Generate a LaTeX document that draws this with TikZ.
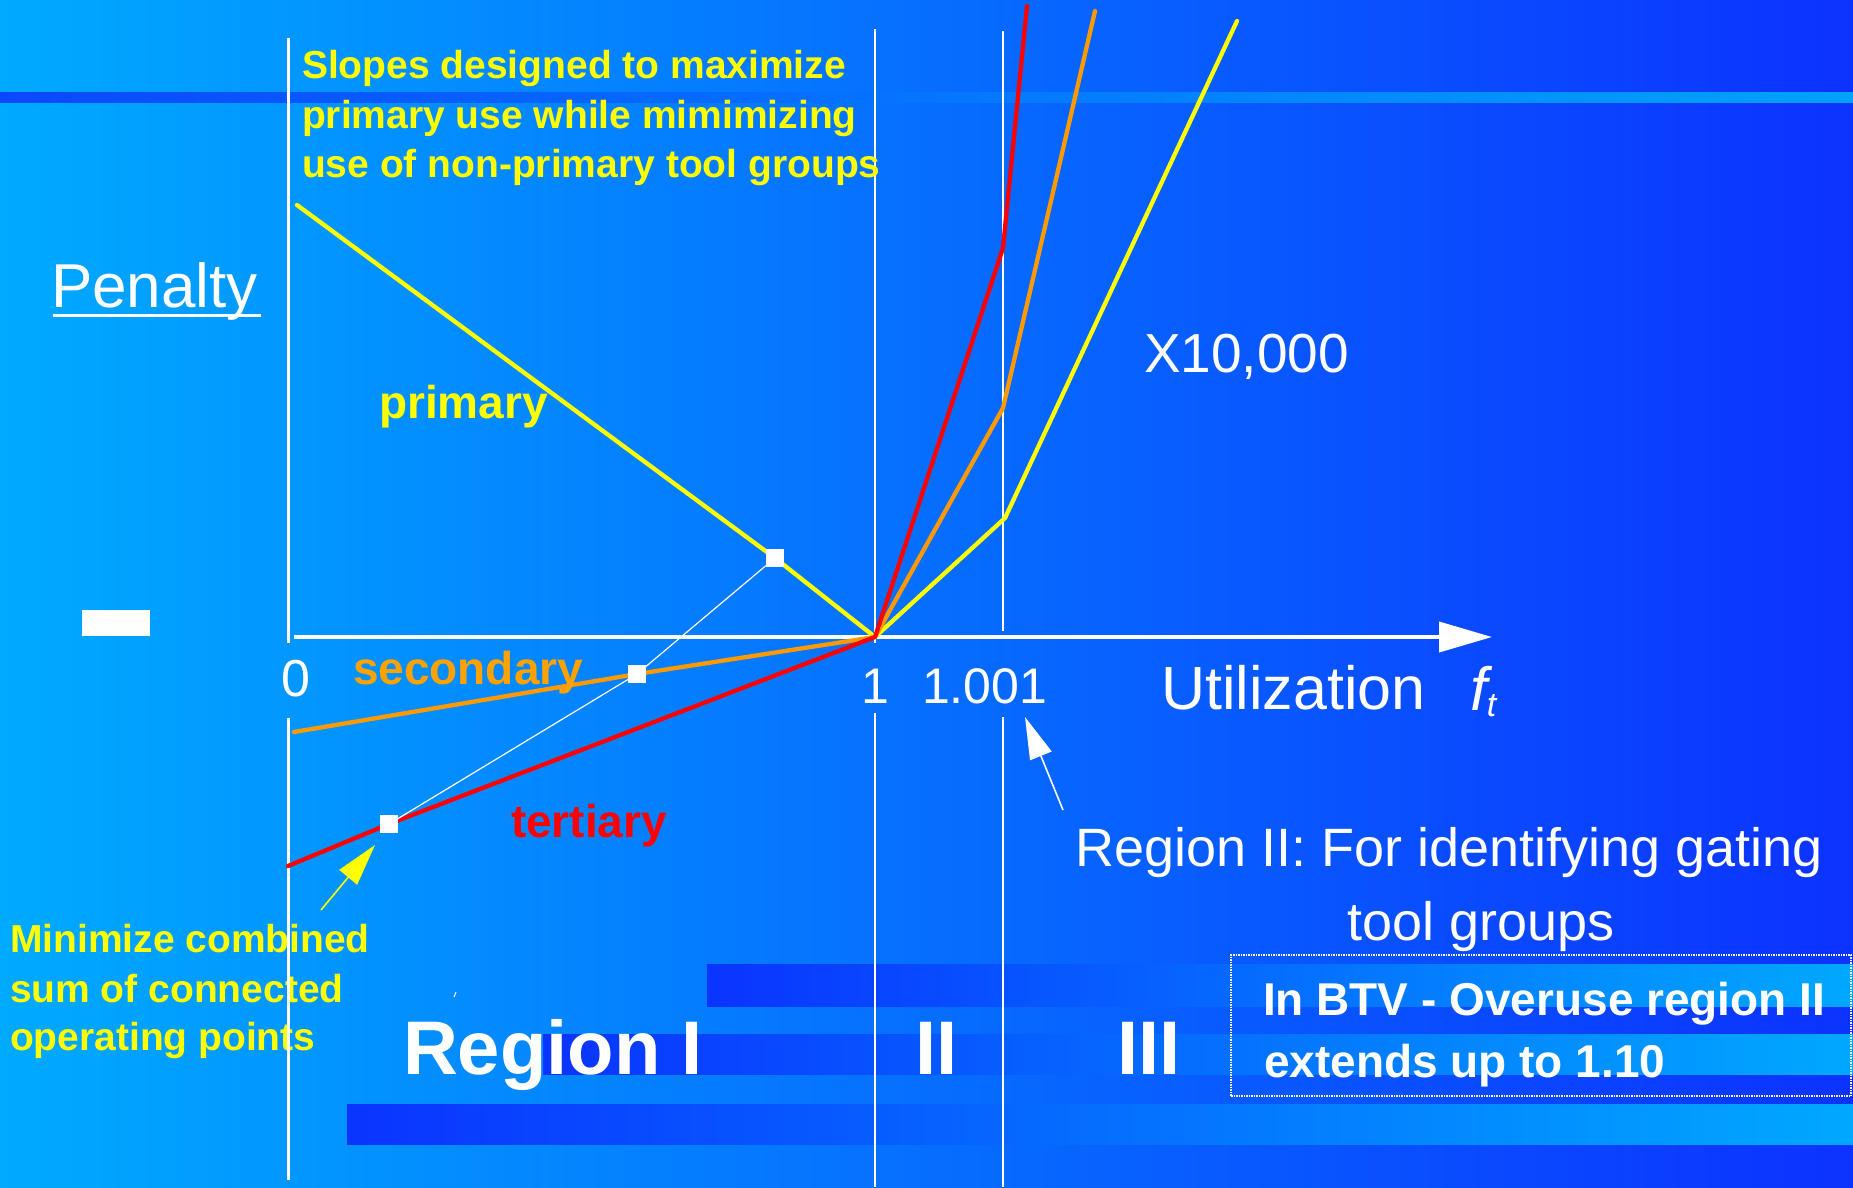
\documentclass[tikz,border=0pt]{standalone}
\usepackage{fontspec}
\setmainfont{Liberation Sans}
\usetikzlibrary{arrows.meta}
\definecolor{bgL}{HTML}{00AAFF}
\definecolor{bgR}{HTML}{0C32FF}
\definecolor{bandD}{HTML}{0A34FF}
\definecolor{bandL}{HTML}{00A8FF}
\definecolor{topD}{HTML}{0A48FF}
\definecolor{topL}{HTML}{00A2FF}
\definecolor{cyel}{HTML}{FFFF00}
\definecolor{corg}{HTML}{FF9900}
\definecolor{corgt}{HTML}{FFA200}
\definecolor{cred}{HTML}{FF0000}
\newcommand{\myfs}[1]{\fontsize{#1}{#1}\selectfont}
\begin{document}
\begin{tikzpicture}[x=1pt,y=-1pt,
  tw/.style={inner sep=0pt,outer sep=0pt,anchor=base west,text=white},
  ty/.style={inner sep=0pt,outer sep=0pt,anchor=base west,text=cyel,font=\myfs{39}\bfseries},
  curvelbl/.style={inner sep=0pt,outer sep=0pt,anchor=base west,font=\myfs{46}\bfseries},
  axisline/.style={draw=white,line width=3pt},
  gridline/.style={draw=white,line width=2pt},
  gridthin/.style={draw=white,line width=1.4pt},
  ycurve/.style={draw=cyel,line width=4.3pt,line join=round,line cap=round},
  ocurve/.style={draw=corg,line width=4.3pt,line join=round,line cap=round},
  rcurve/.style={draw=cred,line width=4.3pt,line join=round,line cap=round},
  marker/.style={fill=white,minimum width=18pt,minimum height=18pt,inner sep=0pt,outer sep=0pt},
  link/.style={draw=white,line width=1.2pt},
  callout/.style={line width=1.6pt,-{Triangle[length=42pt,width=23pt]}},
  ]
\useasboundingbox (0,0) rectangle (1853,1187);
% background and bands
\shade[left color=bgL,right color=bgR] (0,0) rectangle (1853,1187);
\shade[left color=topD,right color=topL] (0,92) rectangle (1853,102);
\shade[left color=bandD,right color=bandL] (707,964) rectangle (1853,1006);
\shade[left color=bandD,right color=bandL] (543,1034) rectangle (1853,1074);
\shade[left color=bandD,right color=bandL] (347,1104) rectangle (1853,1144);

% lower-left note
\node[ty] (m1) at (10,952) {Minimize combined};
\node[ty] (m2) at (10,1002) {sum of connected};
\node[ty] (m3) at (10,1050) {operating points};

% vertical lines
\coordinate (ya1) at (288,38);  \coordinate (ya2) at (288,643);
\coordinate (ya3) at (288,718); \coordinate (ya4) at (288,1180);
\draw[axisline] (ya1) -- (ya2);
\draw[axisline] (ya3) -- (ya4);
\coordinate (g1a) at (875,29);  \coordinate (g1b) at (875,643);
\coordinate (g1c) at (875,713); \coordinate (g1d) at (875,1187);
\draw[gridline] (g1a) -- (g1b);
\draw[gridline] (g1c) -- (g1d);
\coordinate (g2a) at (1003,31);  \coordinate (g2b) at (1003,631);
\coordinate (g2c) at (1003,717); \coordinate (g2d) at (1003,1187);
\draw[gridthin] (g2a) -- (g2b);
\draw[gridthin] (g2c) -- (g2d);

% x axis
\coordinate (xa0) at (294,637);
\coordinate (xa1) at (1492,637);
\draw[draw=white,line width=4pt,-{Triangle[length=53pt,width=30pt]}] (xa0) -- (xa1);

% minus sign
\node[fill=white,minimum width=68pt,minimum height=26pt,inner sep=0pt] (minus) at (116,623) {};

% curves
\coordinate (O) at (875,637);
\coordinate (yA) at (297,205);  \coordinate (yPm) at (775,558);
\coordinate (yK) at (1005,518); \coordinate (yT) at (1237,21);
\coordinate (oA) at (294,732);  \coordinate (oSm) at (637,674);
\coordinate (oK) at (1003,408); \coordinate (oT) at (1095,11);
\coordinate (rA) at (288,866);  \coordinate (rTm) at (389,824);
\coordinate (rK) at (1003,248); \coordinate (rT) at (1027,6);
\draw[ycurve] (yA) -- (yPm) -- (O) -- (yK) -- (yT);
\draw[ocurve] (oA) -- (oSm) -- (O) -- (oK) -- (oT);
\draw[rcurve] (rA) -- (rTm) -- (O) -- (rK) -- (rT);

% operating points
\node[marker] (pm) at (yPm) {};
\node[marker] (sm) at (oSm) {};
\node[marker] (tm) at (rTm) {};
\draw[link] (tm) -- (sm) -- (pm);

% callout arrows
\coordinate (yarT) at (321,910); \coordinate (yarH) at (375,845);
\draw[callout,draw=cyel] (yarT) -- (yarH);
\coordinate (warT) at (1063,810); \coordinate (warH) at (1025,717);
\draw[callout,draw=white] (warT) -- (warH);
\coordinate (tk1) at (454,997); \coordinate (tk2) at (456,992);
\draw[white,line width=1pt] (tk1) -- (tk2);

% texts
\node[tw,font=\myfs{62}] (pen) at (51,307) {Penalty};
\draw[white,line width=3pt] ([shift={(2,8.5)}]pen.base west) -- ([shift={(3,8.5)}]pen.base east);

\node[ty] (s1) at (302,78) {Slopes designed to maximize};
\node[ty] (s2) at (302,128) {primary use while mimimizing};
\node[ty] (s3) at (302,177) {use of non-primary tool groups};

\node[curvelbl,text=cyel] (lp) at (379,418) {primary};
\node[curvelbl,text=corgt] (ls) at (353,684) {secondary};
\node[curvelbl,text=cred] (lt) at (511,837) {tertiary};

\node[tw,anchor=base,font=\myfs{52}] (l0) at (296,696) {0};
\node[tw,anchor=base,font=\myfs{50}] (l1) at (875,703) {1};
\node[tw,font=\myfs{50}] (l1001) at (922,703) {1.001};
\node[tw,font=\myfs{61}] (util) at (1161,709) {Utilization};
\node[tw,font=\myfs{61}] (ft) at (1470,710) {\itshape f\raisebox{-6pt}{\myfs{34}t}};
\node[tw,font=\myfs{55}] (x10k) at (1144,372) {X10,000};

\node[tw,font=\myfs{54}] (r2a) at (1075,866) {Region II: For identifying gating};
\node[tw,font=\myfs{54}] (r2b) at (1347,940) {tool groups};

\node[draw=white,densely dotted,line width=1.5pt,minimum width=620pt,minimum height=141pt,inner sep=0pt] (btv) at (1541,1025.5) {};
\node[tw,font=\myfs{46}\bfseries] (b1) at (1263,1015) {In BTV - Overuse region II};
\node[tw,font=\myfs{46}\bfseries] (b2) at (1264,1077) {extends up to 1.10};

\node[tw,font=\myfs{76}\bfseries] (rI) at (403,1074) {Region I};
\node[tw,font=\myfs{76}\bfseries] (rII) at (915,1074) {II};
\node[tw,font=\myfs{76}\bfseries] (rIII) at (1117,1074) {III};
\end{tikzpicture}
\end{document}
